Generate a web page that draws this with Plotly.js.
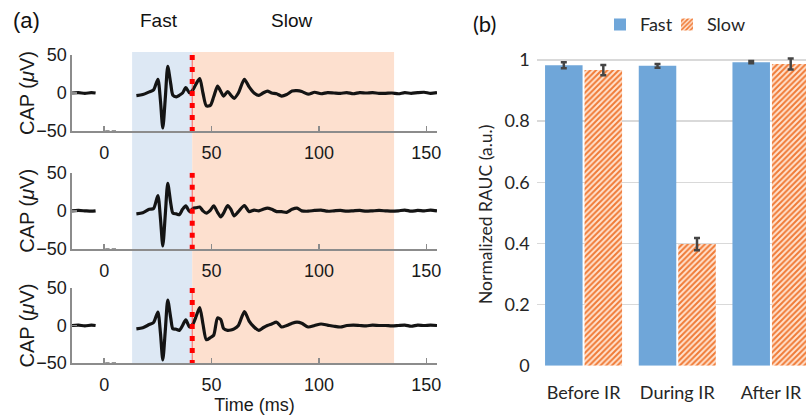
<!DOCTYPE html>
<html>
<head>
<meta charset="utf-8">
<script src="https://cdn.plot.ly/plotly-3.0.1.min.js"></script>
<style>html,body{margin:0;padding:0;background:#fff;overflow:hidden;}#chart{width:806px;height:415px;}</style>
</head>
<body>
<div id="chart"></div>
<script>
// ---- Panel (a): CAP traces (time in ms, CAP in µV) ----
const timeMs = [-15, -12, -9, -6, -4, 5, 15, 18, 21, 23, 25, 26.2, 27.3, 28.5, 29.6, 31, 32, 33.6, 35, 36.5, 38, 39.8, 41.5, 42.8, 44.5, 46, 47.6, 49.5, 51, 52.8, 54.3, 55.6, 57.5, 59, 60.5, 62.5, 65.3, 67.5, 69.8, 72, 74, 76, 78, 80.3, 82.6, 85, 87.5, 89.8, 92, 95, 98, 101, 104, 107, 110, 113, 116, 119, 122, 125, 128, 131, 134, 137, 140, 143, 146, 149, 152, 155];
const capBefore = [0, 0.5, -0.5, 0.5, 0, null, -3.5, -2, 1.5, 4, 18, -10, -46, -5, 35, 12, -3, -5, -3, 0, 7, 0, 5, 12, 19, 0, -17, -16, -5, 9, 2, -4, 2, -3, -7, 0, 18, 8, 0, -3, 0, 2.5, 0, -1, -4, -2, 2.5, 3, 2, -1.5, 1, -1, 0.5, 0, -0.5, 0.5, -1, 0.5, 0, 0.5, -0.5, -0.5, 0, -1, 0.5, -0.5, 0.5, 1, -0.5, 0.5];
const capDuring = [0, 0.5, 0, -0.5, 0, null, -4, -2.5, 2, 3, 20, -10, -46, -3, 36, 10, -3, -4, -5, 2, 6.5, -1, 3.5, 4, 5, 0, -3, 1, 6.5, -2, -8, -3, 7, 2, -6.5, -1, 7, -1, 1, 0, 2, 3.5, 2, -1, -1, -2, 2, 3.5, 0, -0.5, 0.5, 1, -0.5, 0, 0.5, -0.5, 0, 0.5, -0.5, 0, 0.5, 0, -0.5, 0, 1, -0.5, 0.5, 0, 1, 0];
const capAfter = [0, 0.5, -0.5, 0.5, 0, null, -4.5, -3, 1.3, 4, 18, -10, -46, -5, 34, 10, -4.5, -5, -6.5, 0, 7.5, -2, 3, 12, 24, 2, -19, -16, -13, 10, 8, -4, -6.5, -6, -4.5, 0, 18.7, 6, -2, -6.5, -3, 0, 2, 4.4, -2, 0, 3, 4.4, 3, -2, 0, 2, 0.5, -1, -2, 0, 0.5, 0, -0.5, 0.5, 0, 0, -0.5, 0, 0.5, -1, 0.5, 0, 0.5, 0];
const artifactT = [0.5, 2.5, null, 3.5, 5.5];
const artifactV = [-50, -50, null, -50, -50];
const fastWindow = [13, 41];
const slowWindow = [41, 135];
const xTicks = [0, 50, 100, 150];
const yTicks = [-50, 0, 50];

// ---- Panel (b): normalized RAUC ----
const conditions = ['Before IR', 'During IR', 'After IR'];
const fastRAUC = [0.983, 0.981, 0.993];
const fastErr = [0.01, 0.006, 0.004];
const slowRAUC = [0.967, 0.398, 0.987];
const slowErr = [0.017, 0.02, 0.018];

const famA = 'Liberation Sans Narrow, Arial Narrow, Liberation Sans, Arial, sans-serif';
const tickFontA = {family: famA, size: 18, color: '#1a1a1a'};
const fontB = {family: 'Lato, sans-serif', size: 18, color: '#262626'};
const axisGrey = '#8c8c8c';

function capTrace(y, xa, ya) {
  return {x: timeMs, y: y, xaxis: xa, yaxis: ya, type: 'scatter', mode: 'lines',
    line: {color: '#141414', width: 3.2, shape: 'spline', smoothing: 0.7},
    connectgaps: false, showlegend: false, hoverinfo: 'skip'};
}
function artTrace(xa, ya) {
  return {x: artifactT, y: artifactV, xaxis: xa, yaxis: ya, type: 'scatter', mode: 'lines',
    line: {color: '#9a9a9a', width: 2}, showlegend: false, cliponaxis: false, hoverinfo: 'skip'};
}

const data = [
  capTrace(capBefore, 'x', 'y'), artTrace('x', 'y'),
  capTrace(capDuring, 'x2', 'y2'), artTrace('x2', 'y2'),
  capTrace(capAfter, 'x3', 'y3'), artTrace('x3', 'y3'),
  {type: 'bar', name: 'Fast', x: conditions, y: fastRAUC, xaxis: 'x4', yaxis: 'y4', legend: 'legend',
   marker: {color: '#6fa6d9', line: {width: 0}},
   error_y: {type: 'data', array: fastErr, color: '#454545', thickness: 2.5, width: 3}},
  {type: 'bar', name: 'Slow', x: conditions, y: slowRAUC, xaxis: 'x4', yaxis: 'y4', legend: 'legend2',
   marker: {color: '#ffffff', line: {width: 0},
     pattern: {shape: '/', fgcolor: '#f07a36', bgcolor: '#ffe3d0', size: 4, solidity: 0.5}},
   error_y: {type: 'data', array: slowErr, color: '#454545', thickness: 2.5, width: 3}}
];

function xA(anchor, extra) {
  return Object.assign({domain: [0.0893, 0.5422], range: [-15, 155], anchor: anchor,
    showline: true, linecolor: axisGrey, linewidth: 1.5, ticks: 'inside', ticklen: 5,
    tickcolor: axisGrey, tickwidth: 1.5, tickvals: xTicks, showgrid: false, zeroline: false,
    tickfont: tickFontA, ticklabelstandoff: 5}, extra || {});
}
function yA(anchor, dom) {
  return {domain: dom, range: [-50, 50], anchor: anchor, showline: true, linecolor: axisGrey,
    linewidth: 1.5, ticks: 'inside', ticklen: 5, tickcolor: axisGrey, tickwidth: 1.5,
    tickvals: yTicks, showgrid: false, zeroline: false, tickfont: tickFontA};
}
const yDomains = [[0.6843, 0.8675], [0.4, 0.5839], [0.1253, 0.306]];

const yTopPaper = 1 - 52 / 415, yBotPaper = 1 - 365 / 415;
const shapes = [
  {type: 'rect', xref: 'x', yref: 'paper', x0: fastWindow[0], x1: fastWindow[1], y0: yBotPaper, y1: yTopPaper,
   fillcolor: '#dde8f4', line: {width: 0}, layer: 'below'},
  {type: 'rect', xref: 'x', yref: 'paper', x0: slowWindow[0], x1: slowWindow[1], y0: yBotPaper, y1: yTopPaper,
   fillcolor: '#fde0cf', line: {width: 0}, layer: 'below'}
];
[['x', 'y'], ['x2', 'y2'], ['x3', 'y3']].forEach(function (p) {
  shapes.push({type: 'line', xref: p[0], yref: p[1], x0: fastWindow[1], x1: fastWindow[1], y0: -50, y1: 50,
    line: {color: 'rgba(255,40,40,0.7)', width: 1}});
  shapes.push({type: 'line', xref: p[0], yref: p[1], x0: fastWindow[1], x1: fastWindow[1], y0: 50, y1: -50,
    line: {color: '#ff0000', width: 5, dash: '5px,7px'}});
});

const annotations = [
  {text: '(a)', xref: 'paper', yref: 'paper', x: 26.5 / 806, y: 1 - 20 / 415, xanchor: 'center', yanchor: 'middle', showarrow: false,
   font: {family: 'Liberation Sans, Arial, sans-serif', size: 22, color: '#111'}},
  {text: 'Fast', xref: 'paper', yref: 'paper', x: 159 / 806, y: 1 - 20 / 415, xanchor: 'center', yanchor: 'middle', showarrow: false,
   font: {family: famA, size: 19, color: '#111'}},
  {text: 'Slow', xref: 'paper', yref: 'paper', x: 291 / 806, y: 1 - 20 / 415, xanchor: 'center', yanchor: 'middle', showarrow: false,
   font: {family: famA, size: 19, color: '#111'}},
  {text: '(b)', xref: 'paper', yref: 'paper', x: 485 / 806, y: 1 - 23 / 415, xanchor: 'center', yanchor: 'middle', showarrow: false,
   font: {family: 'Lato, sans-serif', size: 22, color: '#111'}},
  {text: 'Normalized RAUC (a.u.)', xref: 'paper', yref: 'paper', x: 485 / 806, y: 1 - 214 / 415,
   xanchor: 'center', yanchor: 'middle', textangle: -90, showarrow: false,
   font: {family: 'Lato, sans-serif', size: 17.5, color: '#262626'}}
];
yDomains.forEach(function (d) {
  annotations.push({text: 'CAP (<i>μ</i>V)', xref: 'paper', yref: 'paper', x: 27 / 806, y: (d[0] + d[1]) / 2,
    xanchor: 'center', yanchor: 'middle', textangle: -90, showarrow: false,
    font: {family: 'Liberation Sans, Arial, sans-serif', size: 20, color: '#1a1a1a'}});
});

const legendBase = {orientation: 'h', y: 0.985, xanchor: 'left', yanchor: 'top', font: fontB,
  bgcolor: 'rgba(0,0,0,0)', itemwidth: 30};

const layout = {
  width: 806, height: 415, margin: {l: 0, r: 0, t: 0, b: 0},
  paper_bgcolor: '#ffffff', plot_bgcolor: 'rgba(0,0,0,0)',
  showlegend: true,
  legend: Object.assign({}, legendBase, {x: 600 / 806}),
  legend2: Object.assign({}, legendBase, {x: 667 / 806}),
  barmode: 'group', bargap: 0.157, bargroupgap: 0.05,
  xaxis: xA('y'),
  xaxis2: xA('y2', {matches: 'x'}),
  xaxis3: xA('y3', {matches: 'x', title: {text: 'Time (ms)', font: tickFontA, standoff: 2}}),
  yaxis: yA('x', yDomains[0]),
  yaxis2: yA('x2', yDomains[1]),
  yaxis3: yA('x3', yDomains[2]),
  xaxis4: {domain: [0.6659, 1], anchor: 'y4', type: 'category', range: [-0.5, 2.374],
    showline: false, ticks: '', showgrid: false, zeroline: false, tickfont: fontB, ticklabelstandoff: 14},
  yaxis4: {domain: [0.1188, 0.8923], anchor: 'x4', range: [0, 1.05], dtick: 0.2, tick0: 0,
    showgrid: true, gridcolor: '#d9d9d9', gridwidth: 1.5, zeroline: false, showline: false, ticks: '',
    tickfont: fontB, ticklabelstandoff: 6},
  shapes: shapes,
  annotations: annotations
};

Plotly.newPlot('chart', data, layout, {displayModeBar: false, staticPlot: true});
</script>
</body>
</html>
